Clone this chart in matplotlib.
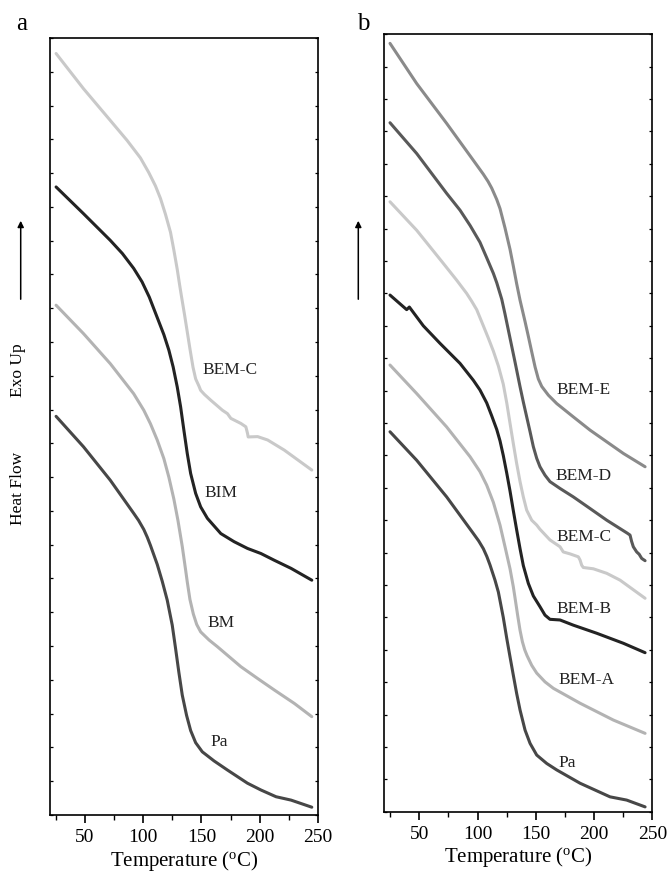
import matplotlib
matplotlib.use("Agg")
import matplotlib.pyplot as plt
from matplotlib.ticker import MultipleLocator, NullFormatter

# ---------------- DATA ----------------
# panel a
a_bemc_T = [25.2, 48.7, 71.7, 86.1, 97.6, 104.7, 110.5, 114.8, 119.1, 123.4, 126.3, 129.2, 131.2,
            132.6, 135.5, 137.8, 140.1, 142.7, 145.0, 147.9, 149.3, 152.5, 157.9, 168.0, 172.3,
            175.2, 183.8, 188.1, 189.5, 190.1, 198.2, 206.8, 221.1, 244.7]
a_bemc_y = [22.54, 21.50, 20.56, 19.97, 19.45, 19.02, 18.62, 18.25, 17.78, 17.25, 16.72, 16.15, 15.70,
            15.40, 14.80, 14.30, 13.80, 13.26, 12.91, 12.69, 12.57, 12.45, 12.28, 11.98, 11.88,
            11.74, 11.59, 11.49, 11.3, 11.19, 11.2, 11.1, 10.8, 10.21]

a_bim_T = [25.2, 48.7, 71.7, 82.1, 91.8, 99.0, 105.2, 111.4, 117.7, 122.0, 125.7, 129.2, 132.1,
           134.9, 137.8, 140.7, 145.0, 149.3, 155.1, 166.6, 178.0, 189.5, 201.0, 212.5, 226.9, 244.7]
a_bim_y = [18.59, 17.80, 17.01, 16.62, 16.18, 15.78, 15.33, 14.78, 14.22, 13.76, 13.26, 12.67, 12.08,
           11.39, 10.70, 10.11, 9.52, 9.12, 8.78, 8.33, 8.09, 7.89, 7.74, 7.54, 7.30, 6.95]

a_bm_T = [25.2, 48.7, 71.7, 91.8, 100.5, 106.2, 112.0, 117.7, 122.0, 126.3, 129.8, 133.5, 136.4,
          137.8, 140.1, 143.0, 145.9, 149.3, 156.5, 163.7, 183.8, 198.2, 212.5, 229.8, 244.7]
a_bm_y = [15.09, 14.25, 13.36, 12.47, 11.98, 11.58, 11.10, 10.55, 10.00, 9.35, 8.72, 7.95, 7.25,
          6.90, 6.38, 5.95, 5.64, 5.42, 5.18, 4.98, 4.39, 4.04, 3.70, 3.30, 2.91]

a_pa_T = [25.2, 48.7, 71.7, 91.8, 96.0, 100.5, 103.5, 106.2, 112.0, 116.3, 120.6, 124.9, 127.8,
          130.6, 133.5, 137.2, 140.7, 145.0, 150.7, 160.8, 172.3, 189.5, 201.0, 214.0, 226.9, 244.7]
a_pa_y = [11.80, 10.90, 9.91, 8.93, 8.72, 8.45, 8.22, 7.98, 7.42, 6.92, 6.36, 5.62, 4.92,
          4.22, 3.55, 2.95, 2.50, 2.14, 1.87, 1.60, 1.33, 0.94, 0.74, 0.54, 0.44, 0.23]

# panel b
b_beme_T = [24.9, 47.8, 73.5, 96.4, 105.0, 109.0, 112.2, 116.5, 119.3, 123.6, 127.9, 130.7, 133.6,
            136.5, 140.8, 143.6, 146.5, 149.4, 152.2, 155.1, 160.8, 168.0, 182.2, 196.6, 225.2, 243.8]
b_beme_y = [23.72, 22.48, 21.25, 20.11, 19.68, 19.46, 19.25, 18.90, 18.62, 18.02, 17.36, 16.85, 16.30,
            15.79, 15.13, 14.68, 14.20, 13.73, 13.36, 13.13, 12.86, 12.60, 12.19, 11.78, 11.06, 10.65]

b_bemd_T = [24.9, 47.8, 73.5, 85.0, 93.6, 102.1, 107.9, 113.6, 116.5, 120.8, 123.5, 127.9, 132.2,
            136.5, 139.3, 142.2, 145.1, 147.9, 150.8, 153.6, 157.9, 162.2, 170.8, 182.2, 196.6,
            210.9, 228.5, 230.9, 232.2, 233.7, 236.6, 238.7, 240.9, 243.8]
b_bemd_y = [21.27, 20.32, 19.09, 18.57, 18.10, 17.58, 17.10, 16.62, 16.33, 15.82, 15.38, 14.62, 13.88,
            13.12, 12.65, 12.19, 11.73, 11.27, 10.91, 10.65, 10.39, 10.19, 9.98, 9.72, 9.36,
            9.0, 8.60, 8.54, 8.35, 8.18, 8.02, 7.95, 7.82, 7.75]

b_bemc_T = [24.9, 47.8, 70.6, 82.1, 90.7, 95.0, 99.3, 105.0, 109.3, 113.6, 117.9, 122.1, 125.1,
            127.9, 130.7, 133.6, 136.5, 139.3, 142.2, 146.5, 150.8, 153.6, 162.2, 170.8, 173.6,
            179.4, 186.5, 188.0, 189.4, 190.8, 199.4, 210.9, 222.3, 243.8]
b_bemc_y = [18.83, 17.95, 16.93, 16.41, 16.0, 15.76, 15.50, 15.0, 14.62, 14.22, 13.76, 13.20, 12.62,
            11.99, 11.37, 10.75, 10.19, 9.72, 9.31, 9.0, 8.85, 8.72, 8.39, 8.18, 8.02,
            7.96, 7.87, 7.77, 7.61, 7.54, 7.50, 7.36, 7.15, 6.59]

b_bemb_T = [24.9, 39.2, 41.5, 53.5, 67.8, 85.0, 96.4, 102.1, 107.9, 112.2, 116.5, 119.3, 122.1,
            125.1, 127.9, 130.7, 133.6, 136.5, 139.3, 143.6, 147.9, 153.6, 157.9, 162.2, 170.8,
            182.2, 202.3, 225.2, 243.8]
b_bemb_y = [15.95, 15.50, 15.58, 15.0, 14.46, 13.84, 13.32, 13.02, 12.62, 12.22, 11.80, 11.45, 11.0,
            10.45, 9.90, 9.30, 8.70, 8.12, 7.60, 7.05, 6.66, 6.33, 6.07, 5.94, 5.92,
            5.76, 5.51, 5.20, 4.91]

b_bema_T = [24.9, 47.8, 73.5, 93.6, 102.1, 107.9, 113.6, 119.3, 123.6, 127.9, 130.7, 132.2, 134.5,
            136.5, 138.5, 140.5, 142.5, 146.5, 150.8, 157.9, 165.1, 188.0, 216.6, 243.8]
b_bema_y = [13.79, 12.91, 11.88, 10.96, 10.50, 10.08, 9.55, 8.85, 8.18, 7.50, 6.95, 6.60, 6.05,
            5.60, 5.25, 5.00, 4.82, 4.52, 4.28, 4.01, 3.81, 3.35, 2.83, 2.42]

b_pa_T = [24.9, 47.8, 73.5, 96.4, 101.0, 105.0, 108.0, 110.7, 115.0, 117.9, 122.1, 125.1, 127.9,
          130.7, 133.6, 136.5, 140.8, 145.1, 150.8, 159.4, 168.0, 188.0, 213.7, 228.0, 243.8]
b_pa_y = [11.73, 10.85, 9.72, 8.59, 8.36, 8.12, 7.88, 7.62, 7.15, 6.78, 6.0, 5.35, 4.78,
          4.22, 3.65, 3.14, 2.52, 2.11, 1.75, 1.49, 1.29, 0.88, 0.46, 0.36, 0.15]

# label names and where they sit (T, y)
a_names = ["BEM-C", "BIM", "BM", "Pa"]
a_label_T = [150.8, 152.2, 155.0, 157.9]
a_label_y = [13.17, 9.52, 5.69, 2.17]

b_names = ["BEM-E", "BEM-D", "BEM-C", "BEM-B", "BEM-A", "Pa"]
b_label_T = [168.0, 166.5, 168.0, 168.0, 169.4, 169.4]
b_label_y = [13.02, 10.36, 8.47, 6.25, 4.06, 1.49]

# ---------------- STYLE ----------------
plt.rcParams["font.family"] = ["Liberation Serif", "DejaVu Serif"]
plt.rcParams["mathtext.fontset"] = "custom"
plt.rcParams["mathtext.rm"] = "Liberation Serif"
plt.rcParams["mathtext.it"] = "Liberation Serif:italic"
plt.rcParams["lines.solid_joinstyle"] = "round"
plt.rcParams["lines.solid_capstyle"] = "round"

c_light = "#c9c9c9"
c_mid_light = "#b3b3b3"
c_mid = "#8a8a8a"
c_dark = "#595959"
c_pa = "#474747"
c_black = "#232323"
lw = 2.2

fig = plt.figure(figsize=(6.68, 8.75), dpi=100)
ax_a = fig.add_axes([0.0749, 0.0686, 0.4011, 0.888])
ax_b = fig.add_axes([0.5753, 0.0723, 0.4012, 0.8885])


def style_axis(ax, ytop):
    ax.set_xlim(20, 250)
    ax.set_ylim(0, ytop)
    ax.xaxis.set_major_locator(MultipleLocator(50))
    ax.xaxis.set_minor_locator(MultipleLocator(25))
    ax.yaxis.set_major_locator(MultipleLocator(1))
    ax.yaxis.set_major_formatter(NullFormatter())
    ax.tick_params(axis="x", which="major", direction="out", length=6, width=1.2,
                   labelsize=14, pad=4)
    ax.tick_params(axis="x", which="minor", direction="out", length=3.5, width=1.0)
    ax.tick_params(axis="y", which="major", direction="in", length=2.5, width=0.9,
                   left=True, right=True)
    for s in ax.spines.values():
        s.set_linewidth(1.2)
    ax.set_xlabel("Temperature ($^{\\mathrm{o}}$C)", fontsize=15, labelpad=2)


# ---------------- PANEL a ----------------
ax_a.plot(a_bemc_T, a_bemc_y, color=c_light, lw=lw)
ax_a.plot(a_bim_T, a_bim_y, color=c_black, lw=lw)
ax_a.plot(a_bm_T, a_bm_y, color=c_mid_light, lw=lw)
ax_a.plot(a_pa_T, a_pa_y, color=c_pa, lw=lw)
for name, tx, ty in zip(a_names, a_label_T, a_label_y):
    ax_a.text(tx, ty, name, fontsize=12.5, ha="left", va="center", color="#222222")
style_axis(ax_a, 23)

# ---------------- PANEL b ----------------
ax_b.plot(b_beme_T, b_beme_y, color=c_mid, lw=lw)
ax_b.plot(b_bemd_T, b_bemd_y, color=c_dark, lw=lw)
ax_b.plot(b_bemc_T, b_bemc_y, color=c_light, lw=lw)
ax_b.plot(b_bemb_T, b_bemb_y, color=c_black, lw=lw)
ax_b.plot(b_bema_T, b_bema_y, color=c_mid_light, lw=lw)
ax_b.plot(b_pa_T, b_pa_y, color=c_pa, lw=lw)
for name, tx, ty in zip(b_names, b_label_T, b_label_y):
    ax_b.text(tx, ty, name, fontsize=12.5, ha="left", va="center", color="#222222")
style_axis(ax_b, 24)

# ---------------- side annotations ----------------
fig.text(21.5 / 668, 1 - 24 / 875, "a", fontsize=18, ha="center", va="center")
fig.text(363 / 668, 1 - 24 / 875, "b", fontsize=18, ha="center", va="center")

fig.text(18 / 668, 1 - 370 / 875, "Exo Up", rotation=90, fontsize=12.5, ha="center", va="center")
fig.text(18 / 668, 1 - 488 / 875, "Heat Flow", rotation=90, fontsize=12.5, ha="center", va="center")

for xa in (20.7, 358.3):
    fig.add_artist(matplotlib.patches.FancyArrowPatch(
        (xa / 668, 1 - 302 / 875), (xa / 668, 1 - 218 / 875),
        transform=fig.transFigure, arrowstyle="-|>", mutation_scale=9,
        lw=1.1, color="black"))

fig.savefig("out.png", dpi=100)
